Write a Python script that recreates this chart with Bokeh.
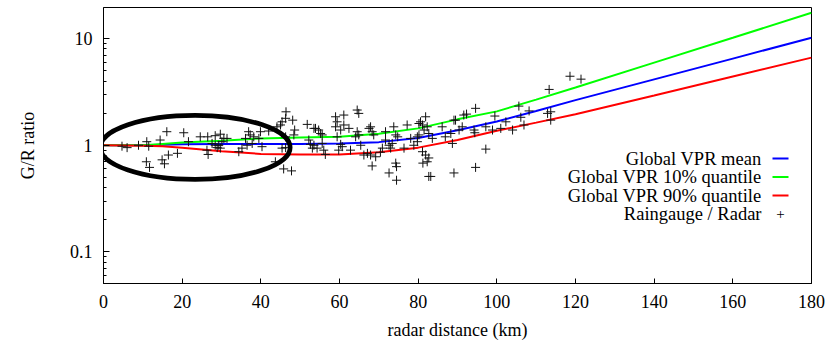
from bokeh.plotting import figure
from bokeh.models import FixedTicker, PrintfTickFormatter, Label, Arrow, Range1d
from bokeh.embed import file_html
from bokeh.resources import INLINE

# ---- data ----
dist_km = [0, 10, 15, 20, 30, 40, 50, 60, 70, 80, 90, 100, 110, 120, 140, 160, 180]
vpr_mean = [1.0, 1.0, 1.01, 1.02, 1.03, 1.03, 1.03, 1.04, 1.07, 1.17, 1.38, 1.67, 2.1, 2.65, 4.15, 6.5, 10.2]
vpr_q10 = [1.0, 1.0, 1.03, 1.06, 1.10, 1.16, 1.18, 1.20, 1.28, 1.44, 1.75, 2.08, 2.68, 3.48, 5.96, 10.2, 17.5]
vpr_q90 = [1.0, 0.99, 0.98, 0.95, 0.88, 0.83, 0.82, 0.82, 0.86, 0.95, 1.12, 1.37, 1.63, 1.95, 2.93, 4.41, 6.64]

gauge_dist = [
    4.7, 6.0, 8.9, 11.0, 11.5, 10.9, 11.7, 14.4, 16.1, 14.9, 15.5, 16.5, 18.8, 20.4, 21.6, 24.6, 26.5, 26.3,
    26.6, 28.4, 29.7, 30.6, 31.4, 27.6, 28.4, 29.3, 29.7, 28.9, 30.1, 34.4, 35.2, 36.1, 36.9, 37.3, 36.5,
    37.8, 38.2, 39.5, 39.9, 40.3, 42.0, 44.1, 45.0, 45.4, 46.3, 46.4, 48.1, 48.6, 48.4, 46.3, 45.4, 46.3,
    43.7, 45.8, 47.8, 51.8, 53.5, 52.2, 52.6, 53.1,
    53.9, 54.7, 55.2, 55.6, 53.5, 54.3, 56.0, 56.4, 55.6, 59.0, 59.4, 61.1, 59.0, 60.3, 61.1, 62.4, 59.4,
    60.3, 60.7, 59.8, 62.8, 64.5, 64.9, 64.5, 64.1, 64.9, 65.4, 66.2, 67.5, 67.9, 68.3, 68.7, 67.1, 67.9,
    69.2, 68.3, 70.4, 70.9, 71.7, 71.7, 72.6, 73.0, 73.8, 74.3, 74.8, 73.4, 74.3, 74.5, 72.6, 74.5, 76.4,
    77.2, 78.1, 78.9, 79.8, 80.2,
    80.6, 81.1, 81.9, 82.3, 81.5, 82.7, 80.2, 83.6, 79.8, 81.1, 81.9, 82.7, 82.3, 81.2, 82.7, 83.2, 86.1,
    86.9, 88.3, 88.7, 89.1, 89.5, 90.4, 91.2, 91.6, 92.3, 94.2, 94.6, 94.4, 89.1, 94.6, 97.2, 97.2, 98.9,
    99.5, 102.3, 101.0, 104.0, 105.6, 106.1,
    106.9, 108.2, 112.9, 113.7, 113.3, 113.7, 118.6, 121.4,
]
gauge_ratio = [
    0.98, 0.95, 1.0, 1.08, 0.98, 0.70, 0.62, 1.12, 1.34, 0.73, 0.67, 0.81, 0.84, 1.31, 1.08, 1.20, 1.20, 0.90,
    0.82, 1.23, 1.27, 1.16, 1.16, 1.04, 1.0, 1.0, 0.94, 0.95, 1.08, 0.87, 0.94, 1.16, 1.34, 1.25, 1.0,
    1.04, 1.20, 1.16, 1.34, 0.97, 1.36, 1.49, 1.55, 1.66, 1.79, 2.06, 1.72, 1.39, 1.25, 1.20, 0.94, 0.95,
    0.70, 0.60, 0.575, 1.57, 1.44, 1.12, 1.02, 0.94,
    1.44, 1.39, 1.29, 1.25, 1.0, 0.94, 0.90, 0.82, 1.04, 1.85, 1.66, 1.92, 1.49, 1.39, 1.55, 1.44, 1.20,
    1.02, 0.97, 0.90, 0.90, 2.14, 1.99, 1.34, 1.20, 1.25, 1.0, 0.81, 1.44, 1.49, 1.34, 1.25, 0.84, 0.81,
    0.78, 0.64, 0.86, 0.94, 1.12, 1.34, 1.0, 0.94, 1.49, 1.25, 1.20, 1.04, 0.68, 0.63, 0.55, 0.47, 0.94,
    1.55, 1.16, 1.0, 1.20, 1.60,
    1.66, 1.55, 1.85, 1.49, 1.39, 1.29, 1.25, 1.16, 1.08, 0.87, 0.81, 0.76, 0.70, 0.68, 0.51, 0.51, 1.49,
    1.20, 1.29, 1.04, 1.72, 1.72, 1.39, 1.49, 1.92, 1.96, 1.39, 2.22, 1.31, 0.55, 0.62, 0.92, 1.49, 1.39,
    1.88, 1.66, 1.44, 1.39, 2.33, 1.83,
    1.55, 2.10, 1.99, 2.06, 3.34, 1.72, 4.44, 4.17,
]

x_ticks = [0, 20, 40, 60, 80, 100, 120, 140, 160, 180]
y_ticks = [0.1, 1, 10]
y_minor_ticks = [0.05, 0.06, 0.07, 0.08, 0.09, 0.2, 0.3, 0.4, 0.5, 0.6, 0.7, 0.8, 0.9,
                 2, 3, 4, 5, 6, 7, 8, 9]
legend_labels = ["Global VPR mean", "Global VPR 10% quantile", "Global VPR 90% quantile", "Raingauge / Radar"]
series_colors = ["#0000ff", "#00ff00", "#ff0000"]

# highlighted region (ellipse): centre in data units, size in screen pixels
ellipse_x = [23.3]
ellipse_y = [0.954]

FONT = "Liberation Serif"

p = figure(width=839, height=342, output_backend="svg", toolbar_location=None,
           y_axis_type="log", x_range=Range1d(0, 180), y_range=Range1d(0.0505, 19.6),
           min_border_left=103, min_border_right=28, min_border_top=7, min_border_bottom=58,
           x_axis_label="radar distance (km)", y_axis_label="G/R ratio")
p.background_fill_color = "white"
p.border_fill_color = "white"
p.xgrid.visible = False
p.ygrid.visible = False
p.outline_line_color = "black"
p.outline_line_width = 1
p.outline_line_alpha = 1

for series, col in zip([vpr_mean, vpr_q10, vpr_q90], series_colors):
    p.line(dist_km, series, line_color=col, line_width=2)

p.scatter(gauge_dist, gauge_ratio, marker="cross", size=9, line_color="#111111", line_width=1)

p.ellipse(x=ellipse_x, y=ellipse_y, width=190, height=64, width_units="screen", height_units="screen",
          fill_color=None, line_color="black", line_width=4.7)

# axes
xa = p.xaxis[0]
xa.ticker = FixedTicker(ticks=x_ticks, minor_ticks=[])
xa.major_tick_in = 5
xa.major_tick_out = 0
xa.minor_tick_line_color = None
xa.major_label_standoff = 11
xa.axis_label_standoff = 9

ya = p.yaxis[0]
ya.ticker = FixedTicker(ticks=y_ticks, minor_ticks=y_minor_ticks)
ya.formatter = PrintfTickFormatter(format="%g")
ya.major_tick_in = 6
ya.major_tick_out = 0
ya.minor_tick_in = 3
ya.minor_tick_out = 0
ya.major_label_standoff = 11
ya.axis_label_standoff = 29

for ax in [xa, ya]:
    ax.axis_line_color = "black"
    ax.major_tick_line_color = "black"
    ax.major_label_text_font = FONT
    ax.major_label_text_font_size = "18px"
    ax.major_label_text_color = "black"
    ax.axis_label_text_font = FONT
    ax.axis_label_text_font_size = "18px"
    ax.axis_label_text_font_style = "normal"
    ax.axis_label_text_color = "black"
ya.minor_tick_line_color = "black"

# legend (text right-aligned, sample to the right, as in the reference)
row_y = [125, 106.5, 88, 69.5]
for lbl, yy in zip(legend_labels, row_y):
    p.add_layout(Label(x=658, y=yy, x_units="screen", y_units="screen", text=lbl,
                       text_align="right", text_baseline="middle", text_font=FONT,
                       text_font_size="18.5px", text_color="black"))
for col, yy in zip(series_colors, row_y[:3]):
    p.add_layout(Arrow(x_start=669, y_start=yy, x_end=685, y_end=yy, start_units="screen",
                       end_units="screen", end=None, line_color=col, line_width=2))
p.add_layout(Label(x=677, y=row_y[3], x_units="screen", y_units="screen", text="+",
                   text_align="center", text_baseline="middle", text_font=FONT,
                   text_font_size="15px", text_color="black"))

open("out.html", "w").write(file_html(p, INLINE))
